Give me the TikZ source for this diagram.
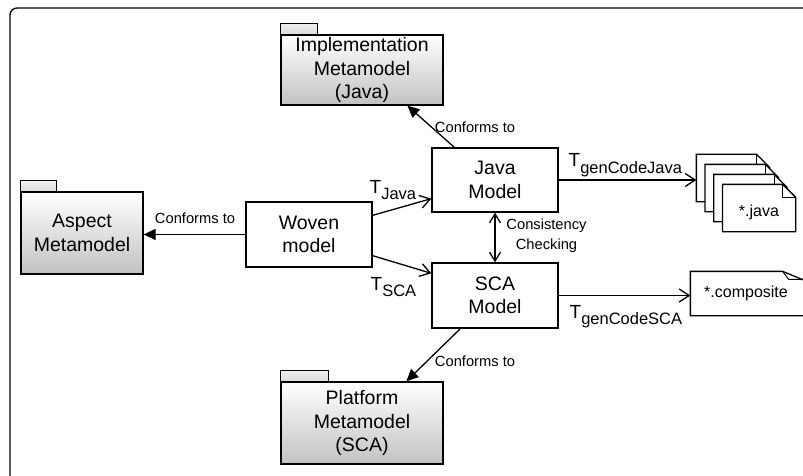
\documentclass[tikz,border=0pt]{standalone}
\usepackage{fontspec}
\setmainfont{Liberation Sans}
\usetikzlibrary{arrows.meta,calc}
\tikzset{
  pkgbody/.style={draw, top color=white, bottom color=black!24, align=center, inner sep=0pt,
    font=\fontsize{19.5}{23.5}\selectfont},
  pkgtab/.style={draw, top color=black!6, bottom color=black!14},
  modelbox/.style={draw, fill=white, align=center, inner sep=0pt, minimum width=126pt,
    font=\fontsize{19.5}{23.5}\selectfont},
  pagebox/.style={minimum width=72pt, minimum height=46pt, inner sep=0pt, font=\fontsize{16}{18}\selectfont},
  lbl/.style={font=\fontsize{14.7}{20}\selectfont, inner sep=0pt, align=center},
  tlbl/.style={font=\fontsize{19}{22}\selectfont, inner sep=0pt, anchor=base west},
  conf/.style={-{Triangle[length=12pt,width=11pt]}},
  trans/.style={-{Straight Barb[length=10pt,width=13pt]}},
  both/.style={{Straight Barb[length=9pt,width=11pt]}-{Straight Barb[length=9pt,width=11pt]}},
}
\newcommand{\Tsub}[1]{T\raisebox{-6.5pt}{\fontsize{16.5}{18}\selectfont #1}}
\begin{document}
\begin{tikzpicture}[x=1pt,y=-1pt, line width=1.3pt]
\useasboundingbox (0,0) rectangle (803,476);
\fill[white] (0,0) rectangle (803,476);
\clip (0,0) rectangle (803,476);
\draw[rounded corners=7pt] (10,8) rectangle (840,495);

% packages
\node[pkgbody, minimum width=162pt, minimum height=70pt] (impl) at (362,70)
  {Implementation\\Metamodel\\(Java)};
\draw[pkgtab] (impl.north west) rectangle ++(37,-11);
\node[pkgbody, minimum width=122pt, minimum height=82pt] (aspect) at (82,233)
  {Aspect\\Metamodel};
\draw[pkgtab] (aspect.north west) rectangle ++(36,-11);
\node[pkgbody, minimum width=162pt, minimum height=82pt] (plat) at (362,423)
  {Platform\\Metamodel\\(SCA)};
\draw[pkgtab] (plat.north west) rectangle ++(48,-11);

% models
\node[modelbox, minimum height=65pt] (woven) at (309,234.5) {Woven\\model};
\node[modelbox, minimum height=64pt] (java) at (495,180) {Java\\Model};
\node[modelbox, minimum height=65pt] (sca) at (495,295.5) {SCA\\Model};

% java file stack
\foreach \i in {1,...,4} {
  \node[pagebox] (p\i) at ({697+8.7*(\i-1)+36},{155+10*(\i-1)+23}) {};
  \draw[fill=white] (p\i.north west) -- ($(p\i.north east)+(-13,0)$) -- ($(p\i.north east)+(0,13)$)
     -- (p\i.south east) -- (p\i.south west) -- cycle;
  \draw[line width=1pt] ($(p\i.north east)+(-13,0)$) -- ($(p\i.north east)+(-13,13)$) -- ($(p\i.north east)+(0,13)$);
}
\node[font=\fontsize{16}{18}\selectfont, inner sep=0pt] (jtxt) at (759,212) {*.java};

% composite file
\node[minimum width=115pt, minimum height=43pt, inner sep=0pt] (comp) at (748.5,293.5) {};
\draw[fill=white] (comp.north west) -- ($(comp.north east)+(-24,0)$) -- ($(comp.north east)+(0,10)$)
   -- (comp.south east) -- (comp.south west) -- cycle;
\draw[line width=1pt] ($(comp.north east)+(-24,0)$) -- ($(comp.north east)+(-18,8)$) -- ($(comp.north east)+(0,8)$);
\node[font=\fontsize{16}{18}\selectfont, inner sep=0pt] (ctxt) at (746,293) {*.composite};

% connectors
\draw[conf] (woven.west) -- (woven.west -| aspect.east);
\node[lbl] (l1) at (195,218) {Conforms to};

\draw[conf] ([xshift=23pt]java.north west) -- ([xshift=127pt]impl.south west);
\node[lbl] (l2) at (475,127) {Conforms to};

\draw[conf] ([xshift=29pt]sca.south west) -- ([xshift=126pt]plat.north west);
\node[lbl] (l3) at (475,361) {Conforms to};

\draw[trans] ([yshift=-14pt]woven.north east) -- ([yshift=14pt]java.south west);
\node[tlbl] (t1) at (369,193) {\Tsub{Java}};

\draw[trans] ([yshift=12pt]woven.south east) -- ([yshift=-11pt]sca.north west);
\node[tlbl] (t2) at (370,290) {\Tsub{SCA}};

\draw[both] (java.south) -- (sca.north);
\node[lbl] (l4) at (546.5,236) {Consistency\\Checking};

\draw[trans] (java.east) -- (java.east -| p1.west);
\node[tlbl] (t3) at (568,167) {\Tsub{genCodeJava}};

\draw[trans] (sca.east) -- (sca.east -| comp.west);
\node[tlbl] (t4) at (569,318) {\Tsub{genCodeSCA}};
\end{tikzpicture}
\end{document}
